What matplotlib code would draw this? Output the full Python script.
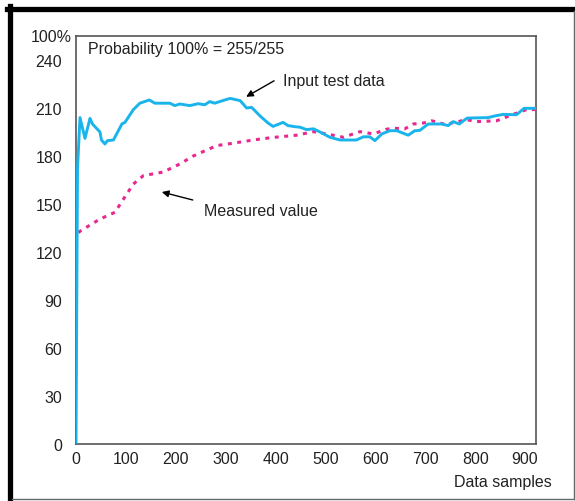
import matplotlib
matplotlib.use("Agg")
import matplotlib.pyplot as plt
from matplotlib.lines import Line2D

plt.rcParams['font.family'] = ['Liberation Sans', 'DejaVu Sans']

## data
input_x = [0, 3, 8, 18, 28, 33, 48, 51, 58, 63, 75, 92, 98, 115, 128, 147, 158,
           188, 198, 208, 228, 245, 258, 268, 278, 298, 309, 329, 342, 352, 369,
           385, 395, 415, 425, 439, 449, 462, 476, 489, 509, 529, 562, 576, 589,
           599, 613, 629, 643, 666, 679, 689, 706, 733, 746, 756, 768, 784, 826,
           839, 856, 883, 898, 920]
input_y = [0, 172, 204, 191, 203.5, 200, 195, 190, 187.5, 189.6, 190, 200, 201,
           209, 213, 215, 213, 213, 211.5, 212.5, 211.5, 212.7, 212, 214, 213,
           215, 216, 214.6, 210, 210.4, 205, 200.6, 198.5, 201, 199, 198.3, 198,
           196.5, 197, 195, 191.7, 190, 190, 192, 192, 189.6, 193.8, 195.8, 195.8,
           193, 195.8, 196, 200, 200, 199, 201.5, 200, 203.7, 204, 205, 206,
           205.8, 209.8, 209.8]

measured_x = [5, 8, 48, 78, 95, 115, 135, 175, 208, 235, 282, 315, 355, 395, 442,
              476, 502, 536, 569, 596, 623, 639, 659, 676, 696, 713, 726, 743,
              753, 783, 803, 843, 876, 903, 920]
measured_y = [132, 133, 140.6, 144.8, 153, 162.5, 167.7, 170, 175, 180, 186.5,
              188, 190, 191.6, 193, 195.2, 193.8, 191.7, 195.2, 193.8, 196.8,
              197.3, 197, 200, 200.6, 202, 201, 199.4, 200.6, 202.7, 201.5, 202,
              206, 209, 209]

ytick_vals = [0, 30, 60, 90, 120, 150, 180, 210, 240]
xtick_vals = [0, 100, 200, 300, 400, 500, 600, 700, 800, 900]

W, H = 575, 502
FS = 11.5
fig = plt.figure(figsize=(W / 100, H / 100), dpi=100)
ax = fig.add_axes([76 / W, 1 - 445 / H, 460 / W, 408 / H])

ax.plot(measured_x, measured_y, color="#e8288e", lw=2.2,
        linestyle=(0, (1.3, 1.8)), dash_capstyle="butt", zorder=2)
ax.plot(input_x, input_y, color="#19b4ec", lw=2.1, zorder=3)

ax.set_xlim(0, 922)
ax.set_ylim(0, 255)
ax.set_xticks(xtick_vals)
ax.set_yticks(ytick_vals)
ax.tick_params(length=0, labelsize=FS, colors="#222222")
ax.tick_params(axis="y", pad=10)
ax.tick_params(axis="x", pad=5)
for s in ax.spines.values():
  s.set_color("#555555")
  s.set_linewidth(1.2)

# top label of the y axis sits a little further right than the others
fig.text(72 / W, 1 - 37 / H, "100%", fontsize=FS, color="#222222",
         ha="right", va="center")

ax.text(24, 247, "Probability 100% = 255/255", fontsize=FS, color="#222222",
        va="center", ha="left")

ax.text(415, 227, "Input test data", fontsize=FS, color="#222222",
        va="center", ha="left")
ax.annotate("", xy=(341, 217), xytext=(397, 227),
            arrowprops=dict(arrowstyle="-|>", color="black", lw=1,
                            mutation_scale=10, shrinkA=0, shrinkB=0))
ax.text(257, 146, "Measured value", fontsize=FS, color="#222222",
        va="center", ha="left")
ax.annotate("", xy=(172, 157.5), xytext=(234, 152.5),
            arrowprops=dict(arrowstyle="-|>", color="black", lw=1,
                            mutation_scale=10, shrinkA=0, shrinkB=0))

fig.text(552 / W, 1 - 483 / H, "Data samples", fontsize=FS, color="#222222",
         ha="right", va="center")

## panel frame: thick black top/left, thin gray right/bottom
fig.add_artist(Line2D([7 / W, 1], [1 - 9.5 / H, 1 - 9.5 / H], color="black",
                      lw=3.8, transform=fig.transFigure))
fig.add_artist(Line2D([9.5 / W, 9.5 / W], [0, 1 - 7 / H], color="black",
                      lw=3.8, transform=fig.transFigure))
fig.add_artist(Line2D([573.5 / W, 573.5 / W], [1 - 500 / H, 1 - 12 / H],
                      color="#666666", lw=1, transform=fig.transFigure))
fig.add_artist(Line2D([12 / W, 1], [1 - 500 / H, 1 - 500 / H],
                      color="#666666", lw=1, transform=fig.transFigure))

fig.savefig("out.png", dpi=100)
